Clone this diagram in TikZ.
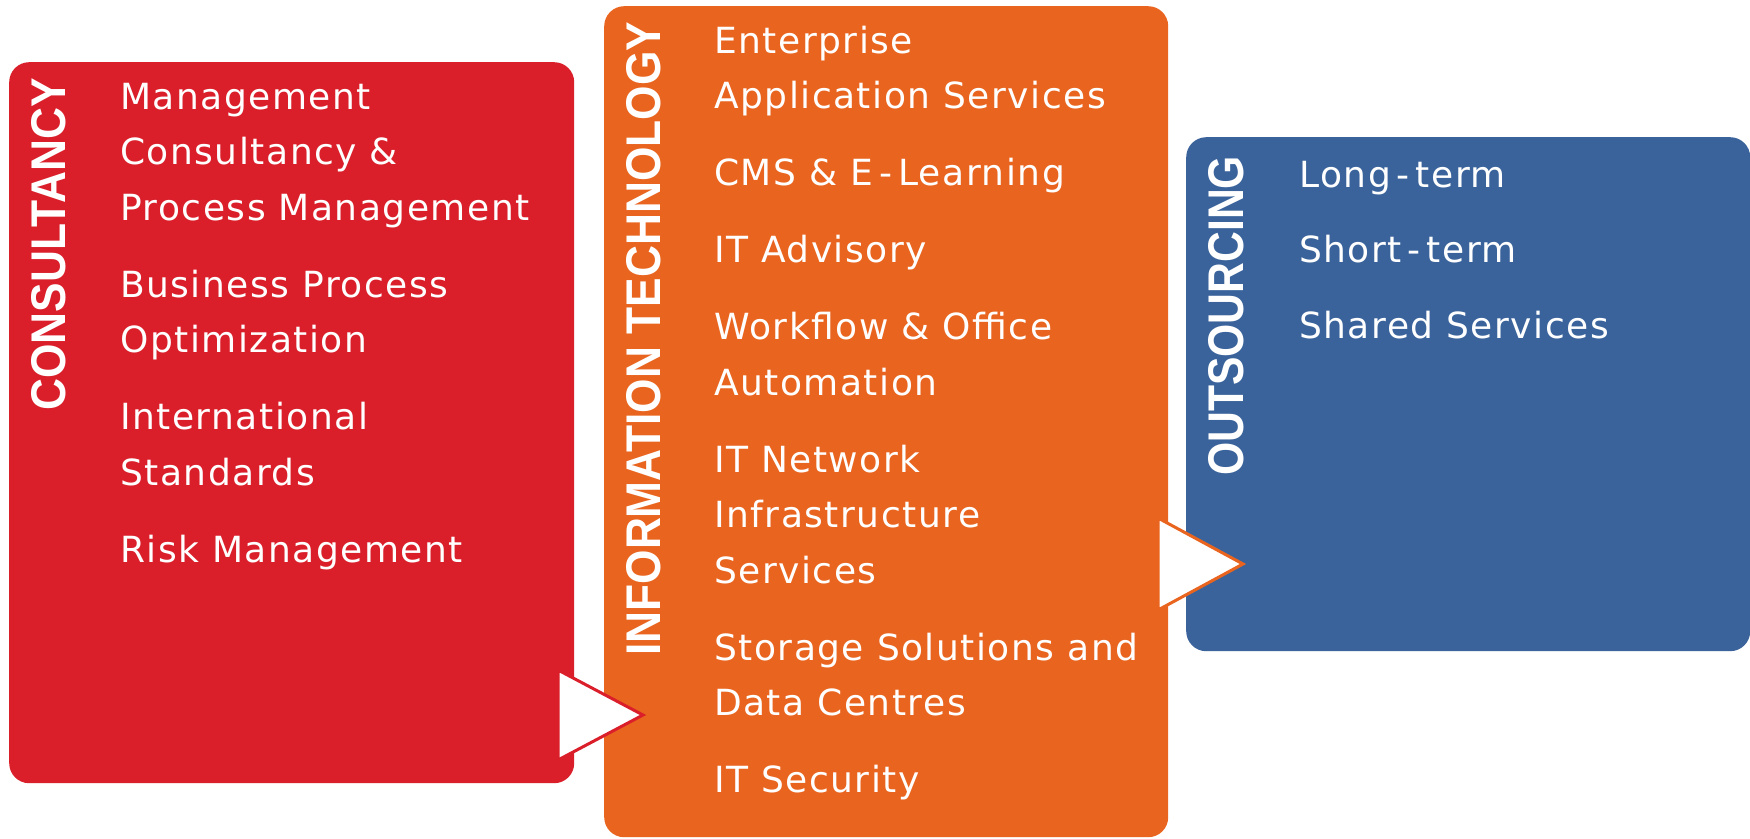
\documentclass[tikz,border=0pt]{standalone}
\usepackage{fontspec}
\usepackage{graphicx}
\setmainfont{DejaVu Sans}[LetterSpace=4.2]
\newfontfamily\titlefont{Liberation Sans}
\newcommand\hy{\kern6pt-\kern6pt}
\definecolor{cred}{HTML}{DA1F2B}
\definecolor{corange}{HTML}{E9641E}
\definecolor{cblue}{HTML}{3A639B}
\begin{document}
\begin{tikzpicture}[x=1pt,y=-1pt,
  panel/.style={rounded corners=20pt, draw=none, inner sep=0pt, anchor=north west},
  item/.style={anchor=base west, inner sep=0pt, text=white, font=\fontsize{36}{40}\selectfont},
  title/.style={anchor=base west, inner sep=0pt, rotate=90, text=white},
  flow/.style={fill=white, line width=3pt, line join=miter}]
\useasboundingbox (0,0) rectangle (1750,838);
% panels
\node[panel, fill=cred, minimum width=565pt, minimum height=721pt] (cons) at (9,62) {};
\node[panel, fill=corange, minimum width=564pt, minimum height=831pt] (it) at (604,6) {};
\node[panel, fill=cblue, minimum width=564pt, minimum height=514pt] (out) at (1186,137) {};
% titles
\node[title] (tcons) at (65,411) {\resizebox{333pt}{34pt}{\titlefont\bfseries CONSULTANCY}};
\node[title] (tit) at (660,656) {\resizebox{634pt}{34pt}{\titlefont\bfseries INFORMATION TECHNOLOGY}};
\node[title] (tout) at (1243,476) {\resizebox{320pt}{35pt}{\titlefont\bfseries OUTSOURCING}};
% consultancy items
\node[item] (c1) at (120,109) {Management};
\node[item] (c2) at (120,164.5) {Consultancy \&};
\node[item] (c3) at (120,220) {Process Management};
\node[item] (c4) at (120,297) {Business Process};
\node[item] (c5) at (120,352.5) {Optimization};
\node[item] (c6) at (120,429.5) {International};
\node[item] (c7) at (120,485) {Standards};
\node[item] (c8) at (120,562) {Risk Management};
% IT items
\node[item] (i1) at (714,53) {Enterprise};
\node[item] (i2) at (714,108.5) {Application Services};
\node[item] (i3) at (714,185.5) {CMS \& E\hy Learning};
\node[item] (i4) at (714,262.5) {IT Advisory};
\node[item] (i5) at (714,339.5) {Workflow \& Office};
\node[item] (i6) at (714,395) {Automation};
\node[item] (i7) at (714,472) {IT Network};
\node[item] (i8) at (714,527.5) {Infrastructure};
\node[item] (i9) at (714,583) {Services};
\node[item] (i10) at (714,660) {Storage Solutions and};
\node[item] (i11) at (714,715.5) {Data Centres};
\node[item] (i12) at (714,792.5) {IT Security};
% outsourcing items
\node[item] (o1) at (1299,187) {Long\hy term};
\node[item] (o2) at (1299,262.5) {Short\hy term};
\node[item] (o3) at (1299,338) {Shared Services};
% flow arrows
\coordinate (a1t) at (558,670);
\coordinate (a1b) at (558,760);
\coordinate (a1p) at (643,715);
\draw[flow, draw=cred] (a1t) -- (a1p) -- (a1b) -- cycle;
\coordinate (a2t) at (1158,518);
\coordinate (a2b) at (1158,610);
\coordinate (a2p) at (1243,564);
\draw[flow, draw=corange] (a2t) -- (a2p) -- (a2b) -- cycle;
\end{tikzpicture}
\end{document}
